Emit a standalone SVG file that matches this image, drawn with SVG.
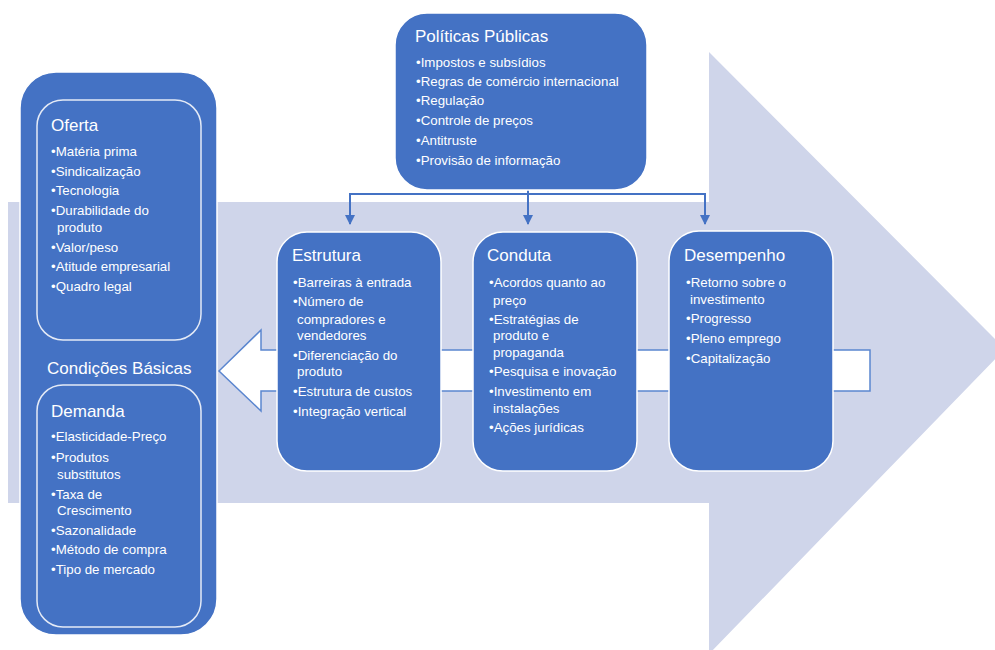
<svg xmlns="http://www.w3.org/2000/svg" width="995" height="650" viewBox="0 0 995 650">
  <defs>
    <style>
      .bg { fill: #FFFFFF; }
      .flow { fill: #CFD5EA; }
      .back { fill: #FFFFFF; stroke: #5B86CF; stroke-width: 1.5; }
      .box { fill: #4472C4; stroke: #FFFFFF; stroke-width: 1.5; }
      .inner { fill: #4472C4; stroke: #E4EAF6; stroke-width: 1.5; }
      .title { font-family: "Liberation Sans", Arial, sans-serif; font-size: 17px; fill: #FFFFFF; }
      .item { font-family: "Liberation Sans", Arial, sans-serif; font-size: 13.3px; fill: #FFFFFF; }
      .link { fill: none; stroke: #4472C4; stroke-width: 2; }
    </style>
    <marker id="tip" viewBox="0 0 10 10" refX="9" refY="5" markerWidth="5" markerHeight="5" orient="auto" markerUnits="strokeWidth">
      <path d="M0,0 L10,5 L0,10 Z" fill="#4472C4"/>
    </marker>
  </defs>

  <rect class="bg" x="0" y="0" width="995" height="650"/>

  <!-- large right-pointing flow arrow -->
  <polygon class="flow" points="8,202 709,202 709,52 1005,349 709,654 709,503 8,503"/>

  <!-- feedback arrow pointing back to the basic conditions -->
  <polygon class="back" points="219,371 261,330 261,350 870,350 870,391 261,391 261,411"/>

  <!-- connectors from public policy -->
  <g id="connectors">
    <polyline class="link" points="528,190 528,194 350,194 350,224" marker-end="url(#tip)"/>
    <polyline class="link" points="528,190 528,224" marker-end="url(#tip)"/>
    <polyline class="link" points="528,194 705,194 705,224" marker-end="url(#tip)"/>
  </g>

  <!-- basic conditions -->
  <g id="condicoes-basicas">
    <rect class="box" x="20" y="72" width="197" height="563" rx="36"/>
    <text class="title" x="47" y="374">Condições Básicas</text>
  </g>

  <g id="oferta">
    <rect class="inner" x="37" y="100" width="164" height="240" rx="26"/>
    <text class="title" x="51" y="131">Oferta</text>
    <text class="item">
      <tspan x="51" y="156">•Matéria prima</tspan>
      <tspan x="51" y="175.5">•Sindicalização</tspan>
      <tspan x="51" y="195">•Tecnologia</tspan>
      <tspan x="51" y="215">•Durabilidade do</tspan>
      <tspan x="57" y="232">produto</tspan>
      <tspan x="51" y="251.5">•Valor/peso</tspan>
      <tspan x="51" y="271">•Atitude empresarial</tspan>
      <tspan x="51" y="290.5">•Quadro legal</tspan>
    </text>
  </g>

  <g id="demanda">
    <rect class="inner" x="37" y="385" width="164" height="242" rx="26"/>
    <text class="title" x="51" y="417">Demanda</text>
    <text class="item">
      <tspan x="51" y="441">•Elasticidade-Preço</tspan>
      <tspan x="51" y="461.5">•Produtos</tspan>
      <tspan x="57" y="478.5">substitutos</tspan>
      <tspan x="51" y="498.5">•Taxa de</tspan>
      <tspan x="57" y="515">Crescimento</tspan>
      <tspan x="51" y="534.5">•Sazonalidade</tspan>
      <tspan x="51" y="553.5">•Método de compra</tspan>
      <tspan x="51" y="573.5">•Tipo de mercado</tspan>
    </text>
  </g>

  <!-- public policy -->
  <g id="politicas-publicas">
    <rect class="box" x="395" y="13" width="252" height="177" rx="32"/>
    <text class="title" x="415" y="41.5">Políticas Públicas</text>
    <text class="item">
      <tspan x="416" y="66.5">•Impostos e subsídios</tspan>
      <tspan x="416" y="86">•Regras de comércio internacional</tspan>
      <tspan x="416" y="105">•Regulação</tspan>
      <tspan x="416" y="125">•Controle de preços</tspan>
      <tspan x="416" y="144.5">•Antitruste</tspan>
      <tspan x="416" y="164.5">•Provisão de informação</tspan>
    </text>
  </g>

  <!-- structure / conduct / performance -->
  <g id="estrutura">
    <rect class="box" x="277" y="232" width="164" height="239" rx="30"/>
    <text class="title" x="292" y="261">Estrutura</text>
    <text class="item">
      <tspan x="293" y="286.5">•Barreiras à entrada</tspan>
      <tspan x="293" y="306">•Número de</tspan>
      <tspan x="297" y="323.5">compradores e</tspan>
      <tspan x="297" y="340">vendedores</tspan>
      <tspan x="293" y="360">•Diferenciação do</tspan>
      <tspan x="297" y="376">produto</tspan>
      <tspan x="293" y="396">•Estrutura de custos</tspan>
      <tspan x="293" y="415.5">•Integração vertical</tspan>
    </text>
  </g>

  <g id="conduta">
    <rect class="box" x="473" y="232" width="164" height="239" rx="30"/>
    <text class="title" x="487" y="261">Conduta</text>
    <text class="item">
      <tspan x="489" y="286.5">•Acordos quanto ao</tspan>
      <tspan x="493" y="304.5">preço</tspan>
      <tspan x="489" y="323.5">•Estratégias de</tspan>
      <tspan x="493" y="340">produto e</tspan>
      <tspan x="493" y="357">propaganda</tspan>
      <tspan x="489" y="376">•Pesquisa e inovação</tspan>
      <tspan x="489" y="395.5">•Investimento em</tspan>
      <tspan x="493" y="412.5">instalações</tspan>
      <tspan x="489" y="432">•Ações jurídicas</tspan>
    </text>
  </g>

  <g id="desempenho">
    <rect class="box" x="669" y="231" width="164" height="240" rx="30"/>
    <text class="title" x="684" y="261">Desempenho</text>
    <text class="item">
      <tspan x="686" y="286.5">•Retorno sobre o</tspan>
      <tspan x="690" y="303.5">investimento</tspan>
      <tspan x="686" y="322.5">•Progresso</tspan>
      <tspan x="686" y="342.5">•Pleno emprego</tspan>
      <tspan x="686" y="362.5">•Capitalização</tspan>
    </text>
  </g>
</svg>
